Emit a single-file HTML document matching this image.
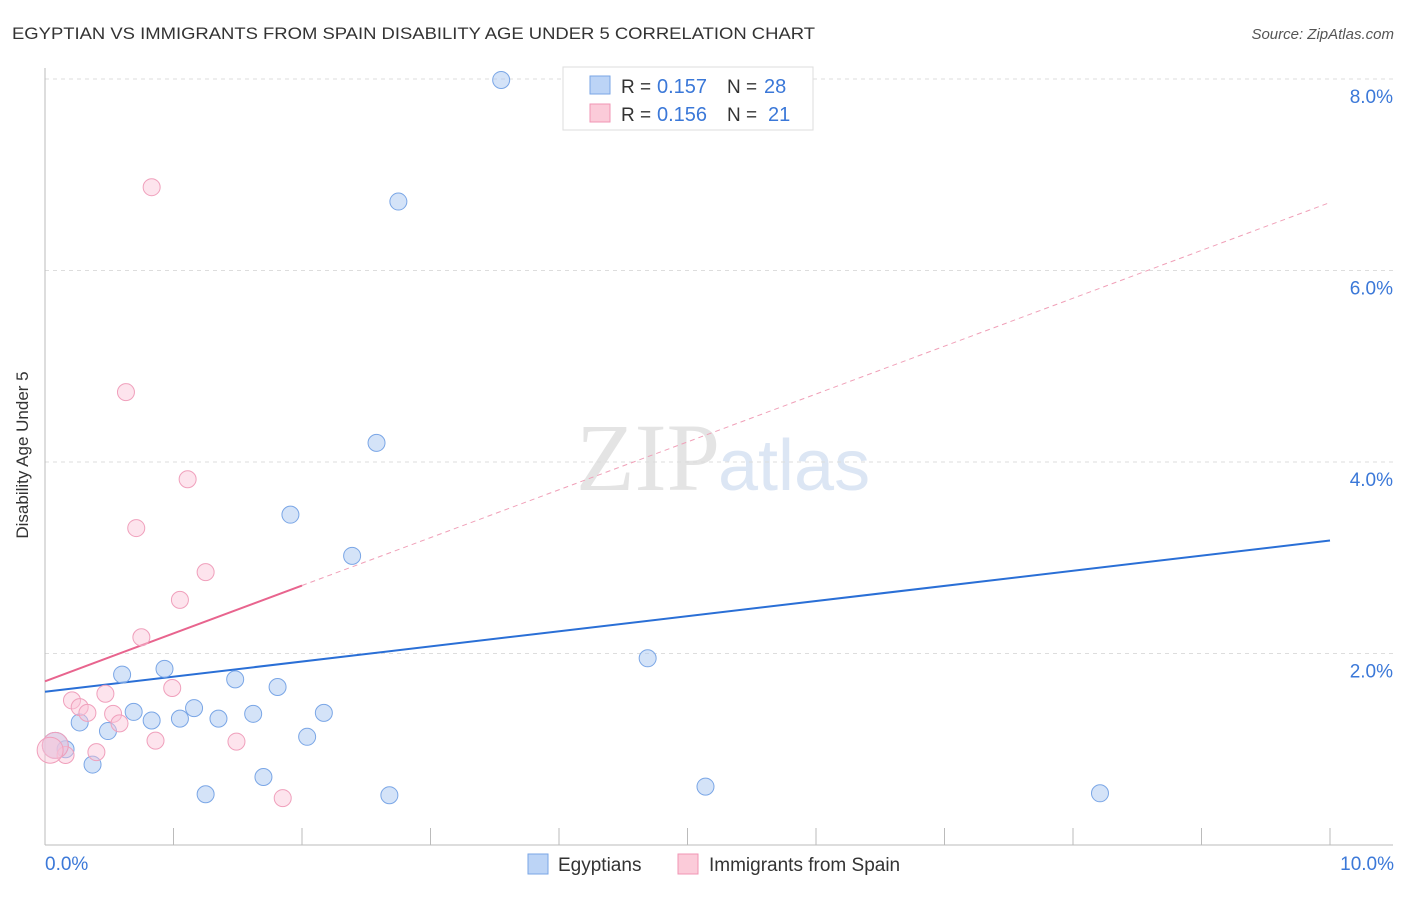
<!DOCTYPE html>
<html><head><meta charset="utf-8"><style>
body{margin:0;background:#fff;font-family:"Liberation Sans",sans-serif}
svg text{font-family:"Liberation Sans",sans-serif}
</style></head><body>
<svg width="1406" height="892" xmlns="http://www.w3.org/2000/svg">
<text x="12" y="39" font-size="17" fill="#333" textLength="803" lengthAdjust="spacingAndGlyphs">EGYPTIAN VS IMMIGRANTS FROM SPAIN DISABILITY AGE UNDER 5 CORRELATION CHART</text>
<text x="1394" y="39" font-size="15" fill="#555" font-style="italic" text-anchor="end">Source: ZipAtlas.com</text>
<text x="720" y="490" font-size="96" fill="#e4e4e4" text-anchor="end" style="font-family:'Liberation Serif',serif">ZIP</text>
<text x="718" y="490" font-size="72" fill="#dce6f4">atlas</text>
<g id="grid"></g>
<g id="axes"></g>
<g id="lines"></g>
<g id="pts"></g>
<text x="28" y="455" font-size="17" fill="#333" text-anchor="middle" transform="rotate(-90 28 455)">Disability Age Under 5</text>
<text x="45" y="870" font-size="19" fill="#3b78d8">0.0%</text>
<text x="1394" y="870" font-size="19" fill="#3b78d8" text-anchor="end">10.0%</text>
<g>
<rect x="563" y="67" width="250" height="63" fill="#fff" stroke="#ddd"/>
<rect x="590" y="76" width="20" height="18" fill="#bcd4f6" stroke="#7aa6e6"/>
<rect x="590" y="104" width="20" height="18" fill="#fbcbd9" stroke="#f096b4"/>
<text x="621" y="93" font-size="19" fill="#333">R =</text>
<text x="657" y="93" font-size="20" fill="#3b78d8">0.157</text>
<text x="727" y="93" font-size="19" fill="#333">N =</text>
<text x="764" y="93" font-size="20" fill="#3b78d8">28</text>
<text x="621" y="121" font-size="19" fill="#333">R =</text>
<text x="657" y="121" font-size="20" fill="#3b78d8">0.156</text>
<text x="727" y="121" font-size="19" fill="#333">N =</text>
<text x="768" y="121" font-size="20" fill="#3b78d8">21</text>
</g>
<g>
<rect x="528" y="854" width="20" height="20" fill="#bcd4f6" stroke="#7aa6e6"/>
<text x="558" y="871" font-size="19" fill="#333">Egyptians</text>
<rect x="678" y="854" width="20" height="20" fill="#fbcbd9" stroke="#f096b4"/>
<text x="709" y="871" font-size="19" fill="#333">Immigrants from Spain</text>
</g>
</svg>
<script>
const yTicks=[2,4,6,8];
const yTickLabels=["2.0%","4.0%","6.0%","8.0%"];
const blueX=[3.55,2.75,2.58,1.91,2.39,4.69,0.93,0.60,1.48,1.81,1.16,0.69,1.62,2.17,1.05,1.35,0.83,0.27,0.49,2.04,0.16,0.08,0.37,1.70,5.14,1.25,2.68,8.21];
const blueY=[7.99,6.72,4.20,3.45,3.02,1.95,1.84,1.78,1.73,1.65,1.43,1.39,1.37,1.38,1.32,1.32,1.30,1.28,1.19,1.13,1.00,1.04,0.84,0.71,0.61,0.53,0.52,0.54];
const pinkX=[0.83,0.63,1.11,0.71,1.25,1.05,0.75,0.99,0.47,0.21,0.27,0.33,0.53,0.58,0.86,1.49,0.40,0.16,0.08,1.85,0.04];
const pinkY=[6.87,4.73,3.82,3.31,2.85,2.56,2.17,1.64,1.58,1.51,1.44,1.38,1.37,1.27,1.09,1.08,0.97,0.94,1.04,0.49,0.99];
const blueTrend=[1.60,3.18];
const pinkTrend=[1.71,0.50];
const NS="http://www.w3.org/2000/svg";
const X=v=>45+v*128.5, Y=v=>845-v*95.75;
function mk(t,a,p){const e=document.createElementNS(NS,t);for(const k in a)e.setAttribute(k,a[k]);document.getElementById(p).appendChild(e);return e;}
yTicks.forEach((t,i)=>{
 const g=mk('line',{x1:45,x2:1393,y1:Y(t),y2:Y(t),stroke:'#ddd','stroke-dasharray':'4 4'},'grid');
 
 
 const l=mk('text',{x:1393,y:Y(t)+24,'font-size':19,fill:'#3b78d8','text-anchor':'end'},'grid');
 l.textContent=yTickLabels[i];
 
 
});
const ax=mk('line',{x1:45,x2:1393,y1:845,y2:845,stroke:'#bbb'},'axes');


const ay=mk('line',{x1:45,x2:45,y1:68,y2:845,stroke:'#bbb'},'axes');


for(let i=0;i<=10;i++){
 const t=mk('line',{x1:X(i),x2:X(i),y1:828,y2:845,stroke:'#bbb'},'axes');
 
 
}
const bl=mk('line',{x1:X(0),y1:Y(blueTrend[0]),x2:X(10),y2:Y(blueTrend[1]),stroke:'#2a6fd6','stroke-width':2},'lines');


const pd=mk('line',{x1:X(2),y1:Y(pinkTrend[0]+pinkTrend[1]*2),x2:X(10),y2:Y(pinkTrend[0]+pinkTrend[1]*10),stroke:'#f0a0b8','stroke-width':1,'stroke-dasharray':'5 4'},'lines');


const ps=mk('line',{x1:X(0),y1:Y(pinkTrend[0]),x2:X(2),y2:Y(pinkTrend[0]+pinkTrend[1]*2),stroke:'#e8648e','stroke-width':2},'lines');


blueX.forEach((x,i)=>{
 const r=(i==21)?13:8.5;
 const c=mk('circle',{cx:X(x),cy:Y(blueY[i]),r:r,fill:'rgba(170,200,242,0.5)',stroke:'#7aa6e6','stroke-width':1},'pts');
 
 
});
pinkX.forEach((x,i)=>{
 const r=(i==18||i==20)?13:8.5;
 const c=mk('circle',{cx:X(x),cy:Y(pinkY[i]),r:r,fill:'rgba(250,195,215,0.45)',stroke:'#f0a0bc','stroke-width':1},'pts');
 
 
});
</script>
</body></html>
